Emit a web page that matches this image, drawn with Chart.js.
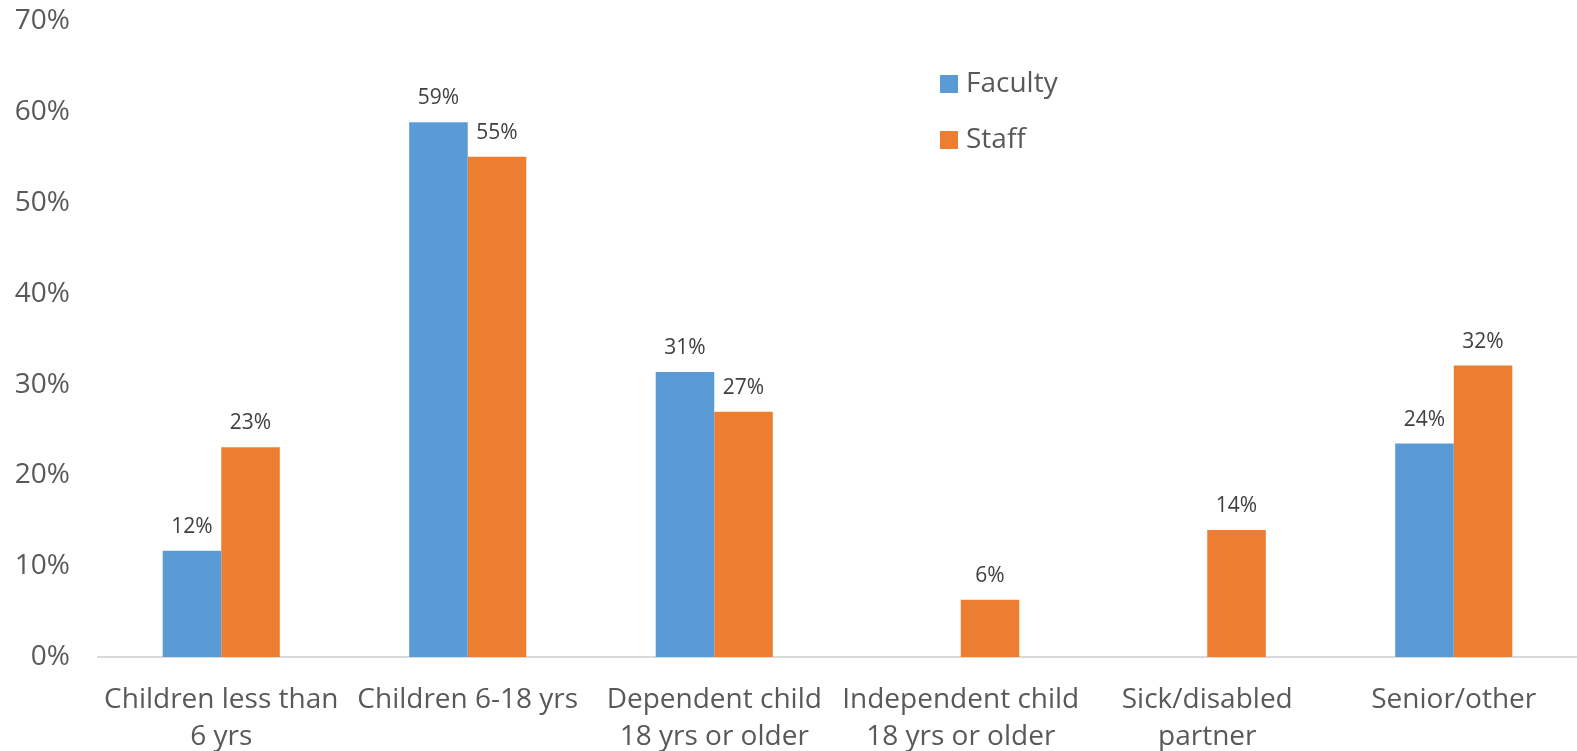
<!DOCTYPE html>
<html>
<head>
<meta charset="utf-8">
<script src="https://cdn.jsdelivr.net/npm/chart.js@4"></script>
<style>
    html, body { margin: 0; padding: 0; background: #fff; }
    #wrap { width: 1577px; height: 751px; position: relative; }
</style>
</head>
<body>
<div id="wrap"><canvas id="careChart"></canvas></div>
<script>
const categories = [
    ['Children less than', '6 yrs'],
    'Children 6-18 yrs',
    ['Dependent child', '18 yrs or older'],
    ['Independent child', '18 yrs or older'],
    ['Sick/disabled', 'partner'],
    'Senior/other'
];
const facultyValues = [11.7, 58.9, 31.4, 0, 0, 23.5];
const staffValues = [23.1, 55.1, 27.0, 6.3, 14.0, 32.1];
const yTicks = [0, 10, 20, 30, 40, 50, 60, 70];

const FONT = '"Open Sans", "DejaVu Sans", sans-serif';

// value labels above each bar
const barLabels = {
    id: 'barLabels',
    afterDatasetsDraw(chart) {
        const ctx = chart.ctx;
        ctx.save();
        ctx.font = '21px ' + FONT;
        ctx.fillStyle = '#404040';
        ctx.textAlign = 'center';
        ctx.textBaseline = 'middle';
        chart.data.datasets.forEach((ds, i) => {
            chart.getDatasetMeta(i).data.forEach((bar, j) => {
                const v = ds.data[j];
                if (!v) return;
                ctx.fillText(Math.round(v) + '%', bar.x, bar.y - 24);
            });
        });
        ctx.restore();
    }
};

// legend drawn inside the plot, stacked vertically
const innerLegend = {
    id: 'innerLegend',
    afterDraw(chart) {
        const ctx = chart.ctx;
        ctx.save();
        ctx.font = '28px ' + FONT;
        ctx.textBaseline = 'middle';
        chart.data.datasets.forEach((ds, i) => {
            const y = 84 + i * 56;
            ctx.fillStyle = ds.backgroundColor;
            ctx.fillRect(940, y - 9, 18, 18);
            ctx.fillStyle = '#595959';
            ctx.fillText(ds.label, 966, y);
        });
        ctx.restore();
    }
};

new Chart(document.getElementById('careChart'), {
    type: 'bar',
    data: {
        labels: categories,
        datasets: [
            { label: 'Faculty', data: facultyValues, backgroundColor: '#5B9BD5' },
            { label: 'Staff', data: staffValues, backgroundColor: '#ED7D31' }
        ]
    },
    options: {
        responsive: true,
        maintainAspectRatio: false,
        animation: false,
        datasets: { bar: { categoryPercentage: 0.475, barPercentage: 1.0 } },
        layout: { padding: { top: 21, right: 0, left: 0, bottom: 0 } },
        plugins: {
            legend: { display: false },
            tooltip: { enabled: false }
        },
        scales: {
            x: {
                grid: { display: false },
                border: { display: true, color: '#d9d9d9', width: 2 },
                ticks: {
                    color: '#595959',
                    font: { size: 28, family: FONT, lineHeight: 1.33 },
                    maxRotation: 0,
                    autoSkip: false,
                    padding: 16
                },
                afterFit: scale => { scale.height = 94; }
            },
            y: {
                min: 0,
                max: 70,
                grid: { display: false },
                border: { display: false },
                afterBuildTicks: scale => { scale.ticks = yTicks.map(v => ({ value: v })); },
                ticks: {
                    color: '#595959',
                    font: { size: 28, family: FONT, lineHeight: 0.1 },
                    padding: 20,
                    callback: v => v + '%'
                },
                afterFit: scale => { scale.width = 98; }
            }
        }
    },
    plugins: [barLabels, innerLegend]
});
</script>
</body>
</html>
